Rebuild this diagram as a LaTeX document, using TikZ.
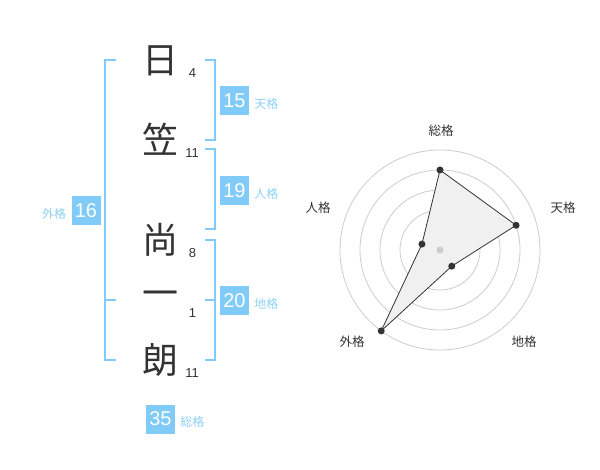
\documentclass[tikz,border=0pt]{standalone}
\usepackage{fontspec}
\setmainfont{Liberation Sans}
\newfontfamily\cjk{Noto Sans CJK JP}
\usetikzlibrary{calc}
\definecolor{kblue}{HTML}{80CBF7}
\definecolor{klabel}{HTML}{8DD0F5}
\definecolor{kdark}{HTML}{333333}
\definecolor{kring}{HTML}{CCCCCC}
\definecolor{kfill}{HTML}{F0F0F0}
\begin{document}
\begin{tikzpicture}[x=1pt,y=-1pt,
  kanji/.style={font=\cjk\fontsize{36}{36}\selectfont, text=kdark, inner sep=0},
  strokes/.style={font=\fontsize{13}{13}\selectfont, text=kdark, inner sep=0},
  numbox/.style={fill=kblue, text=white, minimum size=29pt, inner sep=0, font=\fontsize{20}{20}\selectfont},
  kaku/.style={font=\cjk\fontsize{12}{12}\selectfont, text=klabel, inner sep=0},
  bracket/.style={draw=kblue, line width=2pt},
  ring/.style={draw=kring, line width=0.8pt},
  axislabel/.style={font=\cjk\fontsize{12.5}{12.5}\selectfont, text=kdark, inner sep=0},
  poly/.style={draw=kdark, line width=0.8pt, fill=kfill},
  dot/.style={circle, fill=kdark, minimum size=7pt, inner sep=0}
]
\useasboundingbox (0,0) rectangle (600,470);

% characters
\node[kanji] (c1) at (160,61) {日};
\node[kanji] (c2) at (160,139) {笠};
\node[kanji] (c3) at (160,240) {尚};
\node[kanji] (c4) at (160,299) {一};
\node[kanji] (c5) at (160,360) {朗};

% stroke counts
\node[strokes] (s1) at (192.5,73) {4};
\node[strokes] (s2) at (192,153) {11};
\node[strokes] (s3) at (192.5,253) {8};
\node[strokes] (s4) at (192.5,313) {1};
\node[strokes] (s5) at (192,373) {11};

% brackets
\draw[bracket] (116,60) -- (105,60) -- (105,360) -- (116,360);
\draw[bracket] (105,300) -- (116,300);
\draw[bracket] (205,60) -- (214.5,60) -- (214.5,140) -- (205,140);
\draw[bracket] (205,149) -- (214.5,149) -- (214.5,229) -- (205,229);
\draw[bracket] (205,240) -- (214.5,240) -- (214.5,360) -- (205,360);
\draw[bracket] (205,300) -- (214.5,300);

% number boxes
\node[numbox] (ten) at (234.5,100.5) {15};
\node[kaku, anchor=west, yshift=-3pt] (tenl) at ($(ten.east)+(5,0)$) {天格};
\node[numbox] (jin) at (234.5,190.5) {19};
\node[kaku, anchor=west, yshift=-3pt] (jinl) at ($(jin.east)+(5,0)$) {人格};
\node[numbox] (chi) at (234.5,300.5) {20};
\node[kaku, anchor=west, yshift=-3pt] (chil) at ($(chi.east)+(5,0)$) {地格};
\node[numbox] (gai) at (86,210.5) {16};
\node[kaku, anchor=east, yshift=-3pt] (gail) at ($(gai.west)+(-5,0)$) {外格};
\node[numbox] (sou) at (160.5,419) {35};
\node[kaku, anchor=west, yshift=-3pt] (soul) at ($(sou.east)+(5,0)$) {総格};

% radar chart
\coordinate (rc) at (440,250);
\foreach \r in {20,40,60,80,100} \draw[ring] (rc) circle[radius=\r];
\coordinate (pSou) at ($(rc)+(-90:80)$);
\coordinate (pTen) at ($(rc)+(-18:80)$);
\coordinate (pChi) at ($(rc)+(54:20)$);
\coordinate (pGai) at ($(rc)+(126:100)$);
\coordinate (pJin) at ($(rc)+(-162:19)$);
\draw[poly] (pSou) -- (pTen) -- (pChi) -- (pGai) -- (pJin) -- cycle;
\node[circle, fill=kring, minimum size=7pt, inner sep=0] (cdot) at (rc) {};
\foreach \p in {pSou,pTen,pChi,pGai,pJin} \node[dot] at (\p) {};

\node[axislabel] (lSou) at (441,131) {総格};
\node[axislabel] (lTen) at (563,208) {天格};
\node[axislabel] (lJin) at (318,208) {人格};
\node[axislabel] (lGai) at (352,342) {外格};
\node[axislabel] (lChi) at (524,342) {地格};
\end{tikzpicture}
\end{document}
